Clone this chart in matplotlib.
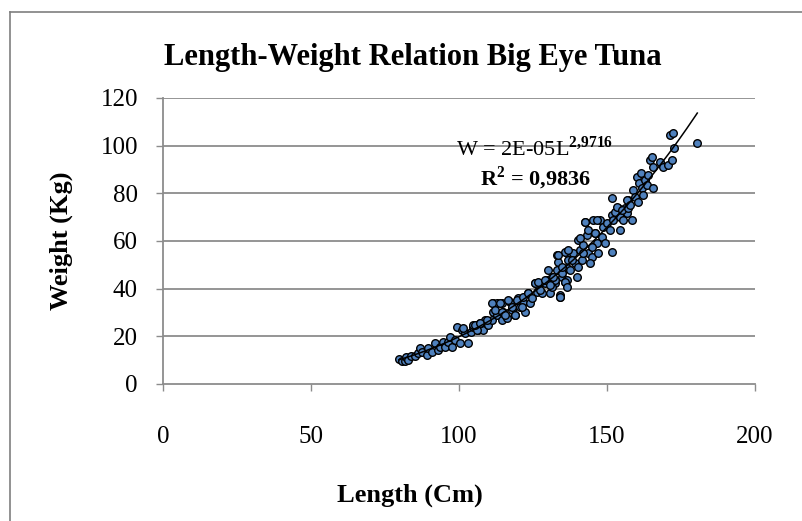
import numpy as np
import matplotlib.pyplot as plt
from matplotlib.lines import Line2D

# Length (cm) and weight (kg)
length = [79.7, 80.6, 81.9, 82.0, 82.9, 83.8, 85.1, 86.3, 86.8, 87.6, 89.1, 89.6, 90.8,
          91.9, 92.8, 93.6, 94.7, 95.3, 96.4, 97.0, 97.5, 98.6, 99.2, 100.3, 100.9,
          102.0, 103.2, 104.1, 104.8, 105.4, 106.5, 107.7, 108.2,
          104.8, 106.0, 107.1, 108.8, 109.9, 111.0, 111.6, 111.4, 112.7, 112.7, 114.4,
          114.4, 115.0, 116.1, 117.2, 117.8, 118.9, 120.0, 120.6, 121.7, 122.3, 123.4,
          124.0, 125.7, 126.2, 126.8, 128.0, 129.1, 129.6, 130.7, 131.3, 132.4, 133.2,
          133.6, 134.1, 134.7, 135.8, 136.4, 136.4,
          131.3, 132.4, 133.0, 133.6, 134.7, 134.1, 135.8, 136.4, 136.9, 137.5, 138.6,
          139.2, 140.3, 140.9, 141.5, 142.0, 142.6, 143.1, 143.7, 144.8, 145.4, 146.0,
          146.5, 147.6, 148.2, 148.8, 149.3, 149.9, 151.0, 151.6, 151.6, 151.6, 152.1,
          153.3, 153.8, 154.4, 155.0, 156.1, 156.7, 157.2,
          152.7, 153.3, 154.4, 155.0, 155.5, 156.7, 157.2, 157.8, 158.3, 158.9, 159.5,
          160.0, 160.6, 160.9, 161.4, 161.7, 162.3, 162.8, 163.4, 163.9, 164.5, 165.1,
          165.6, 165.6, 167.9, 169.0, 170.7, 171.9, 171.3, 172.4, 172.7, 180.5,
          101.5, 105.4, 107.1, 109.4, 111.0, 112.2, 113.9, 114.4, 115.5, 116.7, 117.8,
          118.9, 119.5, 121.2, 121.7, 123.4, 124.6, 125.7, 126.8, 127.4, 129.1, 130.2,
          130.7, 131.9, 133.6, 134.1, 134.7, 135.8, 136.4, 136.9, 138.1, 139.8, 140.3,
          140.9, 142.0, 142.6, 143.7, 144.3, 144.8, 146.0, 146.5, 147.1]
weight = [10.4, 9.8, 9.6, 11.2, 10.1, 11.7, 11.7, 12.9, 15.0, 13.6, 12.2, 15.0, 13.6,
          17.1, 14.3, 15.7, 17.8, 15.7, 17.8, 19.9, 15.7, 18.5, 24.0, 17.1, 22.7,
          21.3, 17.1, 21.9, 24.0, 24.8, 22.7, 25.5, 22.7,
          24.8, 22.7, 25.5, 26.9, 24.8, 26.9, 33.9, 30.3, 33.9, 29.0, 33.9,
          26.9, 30.3, 27.6, 34.5, 31.0, 29.0, 36.0, 32.4, 34.5, 30.3, 38.1,
          33.9, 42.3, 38.7, 41.5, 38.1, 42.3, 43.6, 38.1, 45.0, 42.3, 54.1,
          47.8, 37.3, 45.0, 42.9, 54.8, 48.6,
          40.8, 43.6, 47.8, 51.3, 46.4, 36.6, 55.5, 43.6, 52.0, 47.8, 54.8,
          50.6, 60.4, 56.2, 52.0, 58.3, 68.1, 62.5, 54.8, 53.4, 68.8, 63.2,
          59.0, 68.8, 61.8, 66.0, 59.0, 67.4, 64.6, 55.5, 77.9, 70.9, 68.8,
          72.3, 73.7, 64.6, 69.5, 73.7, 71.6, 77.2,
          72.3, 74.4, 70.2, 73.0, 68.8, 77.2, 73.7, 75.1, 68.8, 81.4, 78.6,
          87.0, 76.5, 84.2, 88.4, 82.1, 79.3, 85.6, 83.5, 87.7, 94.0, 95.4,
          82.1, 91.2, 93.3, 91.2, 91.9, 94.0, 104.5, 105.2, 98.9, 101.0,
          23.4, 24.8, 25.5, 26.9, 33.9, 31.1, 33.9, 30.3, 29.0, 35.2, 32.4,
          29.0, 35.2, 32.4, 36.6, 38.1, 36.0, 42.3, 42.9, 39.4, 43.6, 47.8,
          41.5, 45.0, 54.1, 36.6, 49.2, 42.9, 40.8, 56.2, 52.0, 45.0, 49.2,
          61.1, 54.8, 68.1, 64.6, 50.6, 57.6, 63.2, 68.8, 54.8]

x_ticks = [0, 50, 100, 150, 200]
y_ticks = [0, 20, 40, 60, 80, 100, 120]

plt.rcParams['font.family'] = ['Liberation Serif', 'DejaVu Serif']
plt.rcParams['mathtext.fontset'] = 'custom'
plt.rcParams['mathtext.rm'] = 'Liberation Serif'
plt.rcParams['mathtext.bf'] = 'Liberation Serif:bold'

fig = plt.figure(figsize=(8.02, 5.21), dpi=100)
ax = fig.add_axes([0.2032, 0.263, 0.7382, 0.549])

grid_c = '#8c8c8c'
for v in y_ticks[1:]:
    ax.axhline(v, color=grid_c, lw=1.3, zorder=0)

# power trendline fitted in log space (as Excel does)
L = np.array(length)
W = np.array(weight)
b, lna = np.polyfit(np.log(L), np.log(W), 1)
xs = np.linspace(L.min(), L.max(), 200)
ax.plot(xs, np.exp(lna) * xs ** b, color='black', lw=1.1, zorder=3)

ax.scatter(length, weight, s=30, facecolor='#4f81bd', edgecolor='black',
           linewidth=1.0, zorder=2)

ax.set_xlim(0, 200)
ax.set_ylim(0, 120)
ax.set_xticks(x_ticks)
ax.set_yticks(y_ticks)
for s in ['top', 'right']:
    ax.spines[s].set_visible(False)
for s in ['bottom', 'left']:
    ax.spines[s].set_color(grid_c)
    ax.spines[s].set_linewidth(1.3)
ax.tick_params(axis='both', colors=grid_c, length=5, width=1.0, labelsize=18,
               labelcolor='black')
ax.tick_params(axis='x', pad=25)
ax.tick_params(axis='y', pad=13)

fig.text(0.5105, 1 - 495 / 521, 'Length (Cm)', ha='center', va='center',
         fontsize=19, fontweight='bold')
fig.text(61 / 802, 0.537, 'Weight (Kg)', ha='center', va='center',
         rotation=90, fontsize=19, fontweight='bold')

fig.text(0.515, 1 - 65 / 521, 'Length-Weight Relation Big Eye Tuna', ha='center',
         va='baseline', fontsize=22, fontweight='bold')

ax.text(125.7, 99, r'W = 2E-05L$^{\mathbf{2{,}9716}}$', ha='center', va='center',
        fontsize=16)
ax.text(125.7, 86.4, r'R$^{\mathbf{2}}$ = 0,9836', ha='center', va='center',
        fontsize=16, fontweight='bold')

# chart frame
fig.add_artist(Line2D([10 / 802, 1], [1 - 12 / 521, 1 - 12 / 521],
                      transform=fig.transFigure, color='#7f7f7f', lw=1.2))
fig.add_artist(Line2D([10 / 802, 10 / 802], [0, 1 - 12 / 521],
                      transform=fig.transFigure, color='#7f7f7f', lw=1.2))

fig.savefig('out.png', dpi=100)
